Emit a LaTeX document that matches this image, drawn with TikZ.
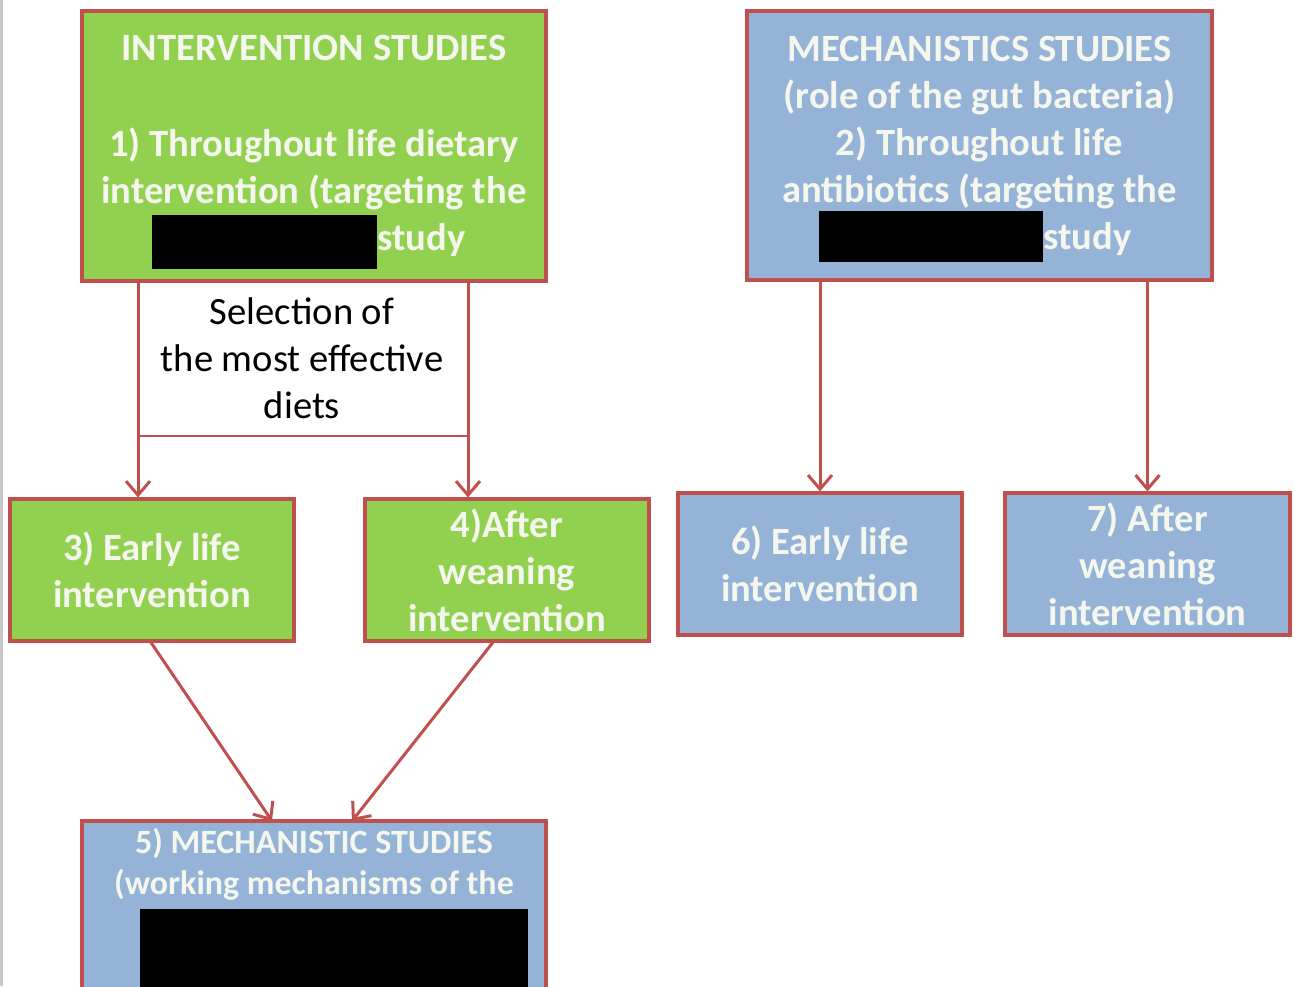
\documentclass[tikz,border=0pt]{standalone}
\usepackage{fontspec}
\setmainfont{Carlito}
\usepackage{tikz}
\usetikzlibrary{positioning,arrows.meta}
\definecolor{leafgreen}{HTML}{92D050}
\definecolor{skyblue}{HTML}{95B3D7}
\definecolor{brickred}{HTML}{C0504D}
\definecolor{paletext}{HTML}{F5F7EE}

\begin{document}
\begin{tikzpicture}[x=0.5pt,y=-0.5pt,
  box/.style={
    draw=brickred,
    line width=1.6pt,
    inner sep=0pt,
    minimum width=142pt,
    minimum height=71pt,
    align=center,
    text=paletext,
    font=\fontsize{19.3}{23.5}\selectfont\bfseries
  },
  greenbox/.style={box,fill=leafgreen},
  bluebox/.style={box,fill=skyblue},
  link/.style={brickred,line width=1.5pt,-{Straight Barb[length=7pt,width=12pt]}}
]
 \useasboundingbox (0,0) rectangle (1295,986);
 \clip (0,0) rectangle (1295,986);
 \draw[black!22,line width=1.5pt] (1.5,0) -- (1.5,986);
  \node[greenbox,minimum width=232pt,minimum height=135pt] (1) at (314,146)
    {INTERVENTION STUDIES\\[24.5pt]1) Throughout life dietary\\intervention (targeting the\\
     \hspace*{-5pt}{\color{black}\smash{\rule[-9pt]{112.5pt}{27pt}}}study};
  \node[bluebox,minimum width=232.5pt,minimum height=134.5pt] (2) at (979.5,145.5)
    {MECHANISTICS STUDIES\\(role of the gut bacteria)\\2) Throughout life\\antibiotics (targeting the\\
     \hspace*{-4pt}{\color{black}\smash{\rule[-6.5pt]{112pt}{25.5pt}}}study};
  \node[greenbox] (3) at (152,570) {3) Early life\\intervention};
  \node[greenbox] (4) at (507,570) {4)After\\weaning\\intervention};
  \node[bluebox,minimum width=232pt,minimum height=100pt] (5) at (314,921) {};
  \node[bluebox] (6) at (820,564) {6) Early life\\intervention};
  \node[bluebox,minimum width=142.5pt] (7) at (1147.5,564) {7) After\\weaning\\intervention};
  \node[text=paletext,align=center,font=\fontsize{17}{20.5}\selectfont\bfseries] (5t) at (314,864)
    {5) MECHANISTIC STUDIES\\(working mechanisms of the};
  \fill[black] (140,909) rectangle (528,1000);
  \node[align=center,font=\fontsize{19.3}{23.5}\selectfont] (sel) at (302,358)
    {Selection of\\the most effective\\diets};
  \coordinate (s1) at (138,436);
  \coordinate (s2) at (468,436);
  \coordinate (3b) at (150,641);
  \coordinate (4b) at (494,641);
  \coordinate (5l) at (272,821);
  \coordinate (5r) at (352,821);
  \draw[link] (1.south -| s1) -- (s1 |- 3.north);
  \draw[link] (1.south -| s2) -- (s2 |- 4.north);
  \draw[brickred,line width=1pt] (s1) -- (s2);
  \draw[link] (6.north |- 2.south) -- (6.north);
  \draw[link] (7.north |- 2.south) -- (7.north);
  \draw[link] (3b) -- (5l);
  \draw[link] (4b) -- (5r);
\end{tikzpicture}
\end{document}
